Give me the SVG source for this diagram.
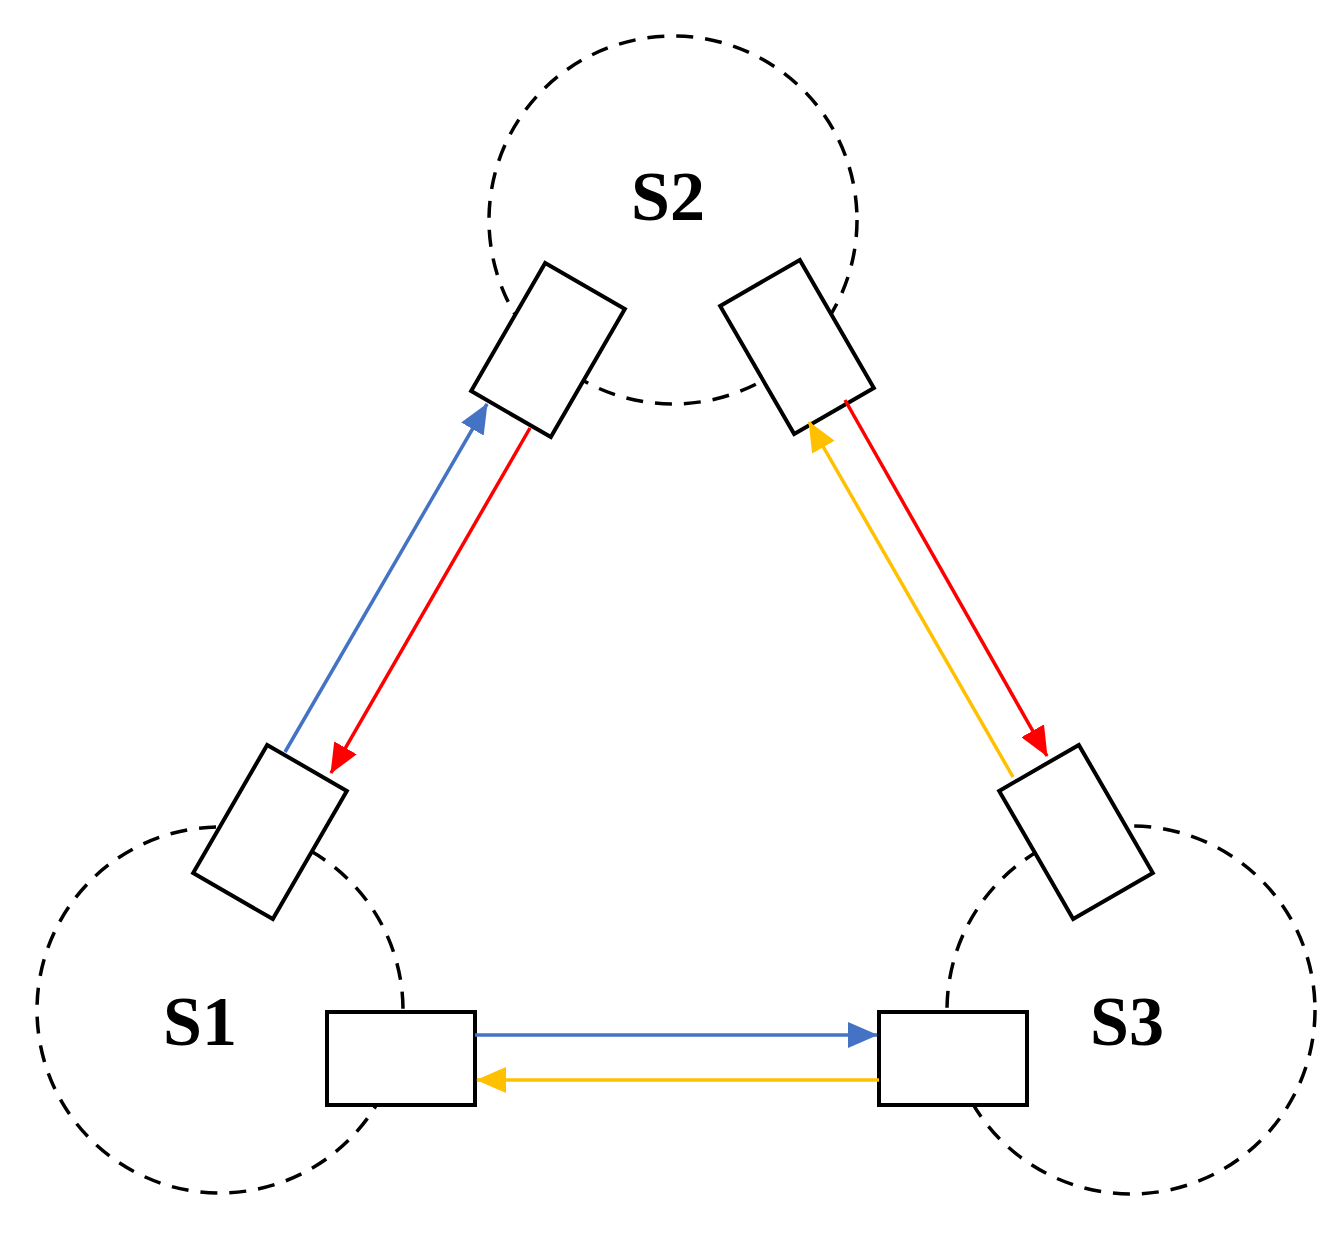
<svg xmlns="http://www.w3.org/2000/svg" width="1343" height="1237" viewBox="0 0 1343 1237">
<defs>
<style>
.c{fill:none;stroke:#000;stroke-width:3.5;stroke-dasharray:17 12}
.r{fill:#fff;stroke:#000;stroke-width:4}
.t{font-family:"Liberation Serif","Times New Roman",serif;font-weight:700;font-size:70px;fill:#000}
.a{stroke-width:3.5;fill:none}
</style>
<marker id="mb" viewBox="0 0 30 26" refX="29" refY="13" markerWidth="30" markerHeight="26" markerUnits="userSpaceOnUse" orient="auto"><path d="M0,0L30,13L0,26z" fill="#4472C4"/></marker>
<marker id="mr" viewBox="0 0 30 26" refX="29" refY="13" markerWidth="30" markerHeight="26" markerUnits="userSpaceOnUse" orient="auto"><path d="M0,0L30,13L0,26z" fill="#FF0000"/></marker>
<marker id="my" viewBox="0 0 30 26" refX="29" refY="13" markerWidth="30" markerHeight="26" markerUnits="userSpaceOnUse" orient="auto"><path d="M0,0L30,13L0,26z" fill="#FFC000"/></marker>
</defs>
<rect width="1343" height="1237" fill="#fff"/>
<g id="S2"><circle class="c" cx="673" cy="220" r="184"/><text class="t" x="668" y="220" text-anchor="middle">S2</text></g>
<g id="S1"><circle class="c" cx="220" cy="1010" r="183"/><text class="t" x="200" y="1045" text-anchor="middle">S1</text></g>
<g id="S3"><circle class="c" cx="1131" cy="1010" r="184"/><text class="t" x="1127" y="1045" text-anchor="middle">S3</text></g>
<g id="S2L"><rect class="r" x="-74" y="-46" width="148" height="92" transform="translate(548,350) rotate(-60)"/></g>
<g id="S2R"><rect class="r" x="-74" y="-46" width="148" height="92" transform="translate(797,347) rotate(60)"/></g>
<g id="S1U"><rect class="r" x="-74" y="-46" width="148" height="92" transform="translate(270,832) rotate(-60)"/></g>
<g id="S3U"><rect class="r" x="-74" y="-46" width="148" height="92" transform="translate(1076,832) rotate(60)"/></g>
<g id="S1B"><rect class="r" x="327" y="1012" width="148" height="93"/></g>
<g id="S3B"><rect class="r" x="879" y="1012" width="148" height="93"/></g>
<g id="connectors">
<path class="a" stroke="#4472C4" d="M285,752L487,404" marker-end="url(#mb)"/>
<path class="a" stroke="#FF0000" d="M530,428L331,773" marker-end="url(#mr)"/>
<path class="a" stroke="#FF0000" d="M845,400L1047,756" marker-end="url(#mr)"/>
<path class="a" stroke="#FFC000" d="M1013,777L809,422" marker-end="url(#my)"/>
<path class="a" stroke="#4472C4" d="M475,1035L877,1035" marker-end="url(#mb)"/>
<path class="a" stroke="#FFC000" d="M879,1080L477,1080" marker-end="url(#my)"/>
</g>
</svg>
